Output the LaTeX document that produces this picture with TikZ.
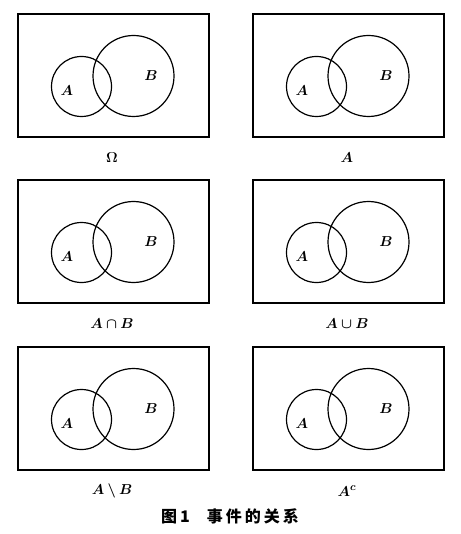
\documentclass[tikz,border=0pt]{standalone}
\usepackage{amsmath,amssymb,bm}
\usepackage{fontspec}
\newfontfamily\cjk{Noto Sans CJK SC}
\tikzset{
  frame/.style={line width=1.7pt},
  event/.style={line width=1.2pt},
  setlabel/.style={inner sep=0pt, font=\fontsize{15}{17}\selectfont}
}
\begin{document}
\begin{tikzpicture}[x=1pt, y=-1pt]
  \useasboundingbox (0,0) rectangle (460,534);
  % six panels: origin of frame / caption / name
  \foreach \px/\py/\lbl/\nm in {18/14/{\Omega}/p1, 253/14/{A}/p2,
      18/180/{A\cap B}/p3, 253/180/{A\cup B}/p4,
      18/347/{A\setminus B}/p5, 253/347/{A^{c}}/p6} {
    \begin{scope}[shift={(\px,\py)}]
      \draw[frame] (0,0) rectangle (191,123);
      \draw[event] (63.5,72.5) circle (30);
      \draw[event] (115.5,62) circle (40.5);
      \node[setlabel] (\nm A) at (49,77) {$\bm{A}$};
      \node[setlabel] (\nm B) at (133,62) {$\bm{B}$};
      \node[setlabel] (\nm cap) at (94,144) {$\bm{\lbl}$};
    \end{scope}
  }
  \node[inner sep=0pt, font=\fontsize{16}{18}\selectfont\cjk\bfseries] (title)
    at (230,516) {图\hspace{3pt}1\hspace{17pt}事\hspace{3pt}件\hspace{3pt}的\hspace{3pt}关\hspace{3pt}系};
\end{tikzpicture}
\end{document}
